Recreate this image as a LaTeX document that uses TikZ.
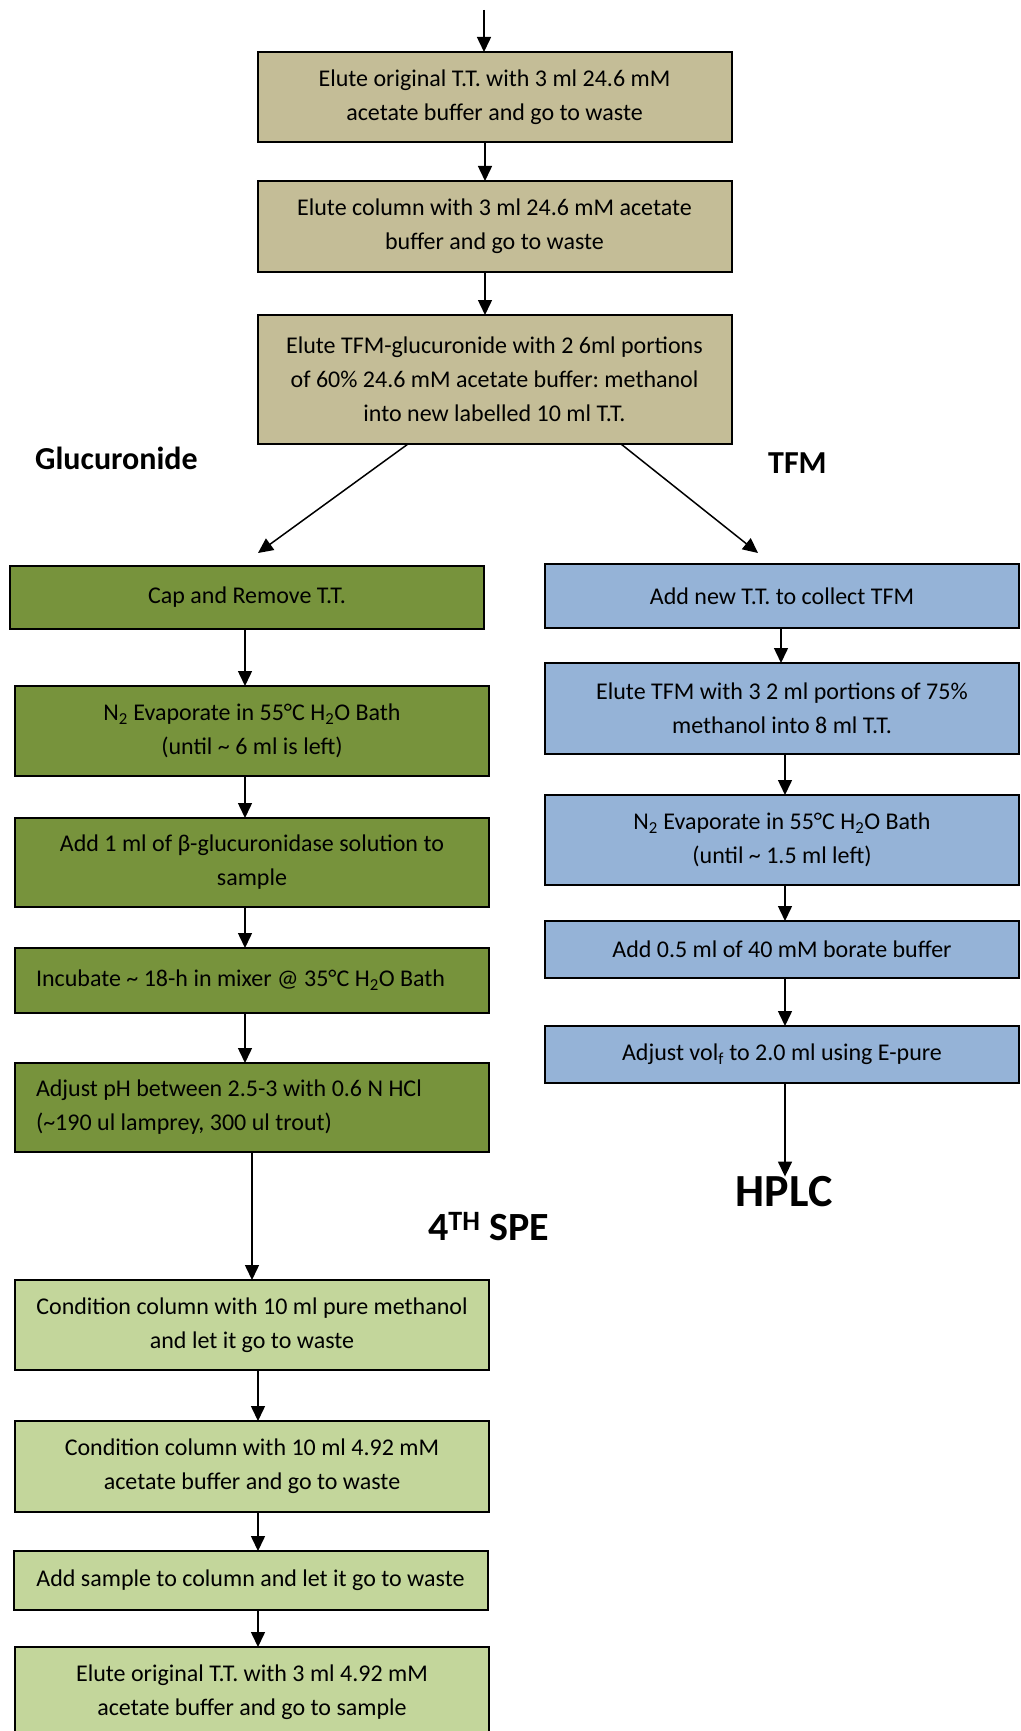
\documentclass[tikz,border=0pt]{standalone}
\usepackage{fontspec}
\setmainfont{Carlito}
\usepackage{tikz}
\usetikzlibrary{positioning,arrows.meta}
\definecolor{tanfill}{HTML}{C4BD97}
\definecolor{olivefill}{HTML}{77933C}
\definecolor{bluefill}{HTML}{95B3D7}
\definecolor{limefill}{HTML}{C3D69B}
\frenchspacing

\begin{document}
\begin{tikzpicture}[x=1pt, y=1pt,
    stepbox/.style={rectangle, draw=black, line width=2pt, outer sep=0pt, minimum width=474pt, inner xsep=0pt, inner ysep=0pt, align=center, font=\fontsize{24}{34}\selectfont},
    leftbox/.style={stepbox, minimum width=0pt, text width=432pt, inner xsep=21pt, align=flush left},
    tanbox/.style={stepbox, fill=tanfill},
    olivebox/.style={stepbox, fill=olivefill},
    bluebox/.style={stepbox, fill=bluefill},
    limebox/.style={stepbox, fill=limefill},
    headlabel/.style={inner sep=0pt, anchor=base west, font=\bfseries\fontsize{32}{36}\selectfont},
    flow/.style={line width=1.5pt, -{Triangle[length=15pt, width=14pt]}}
]
\useasboundingbox (0,0) rectangle (1020,-1731);

% common part
\coordinate (feed) at (484,-10);
\node[tanbox, minimum height=90pt] (eluteTT) at (494.5,-97) {Elute original T.T. with 3 ml 24.6 mM\\acetate buffer and go to waste};
\node[tanbox, minimum height=91pt, below=39pt of eluteTT] (eluteCol) {Elute column with 3 ml 24.6 mM acetate\\buffer and go to waste};
\node[tanbox, minimum height=129pt, below=43pt of eluteCol] (eluteGlu) {Elute TFM-glucuronide with 2 6ml portions\\of 60\% 24.6 mM acetate buffer: methanol\\into new labelled 10 ml T.T.};

\node[headlabel] (gluLabel) at (35,-469) {Glucuronide};
\node[headlabel] (tfmLabel) at (768,-473) {TFM};
\coordinate (gluTip) at (258,-553);
\coordinate (tfmTip) at (758,-553);

% glucuronide branch
\node[olivebox, minimum height=63pt] (capTT) at (247,-597.5) {Cap and Remove T.T.};
\node[olivebox, minimum height=90pt, below=57pt of capTT, xshift=5pt] (evapL) {N\textsubscript{2} Evaporate in 55°C H\textsubscript{2}O Bath\\(until \textasciitilde{} 6 ml is left)};
\node[olivebox, minimum height=89pt, below=42pt of evapL] (enzyme) {Add 1 ml of β-glucuronidase solution to\\sample};
\node[olivebox, leftbox, minimum height=65pt, below=41pt of enzyme] (incub) {Incubate \textasciitilde{} 18-h in mixer @ 35°C H\textsubscript{2}O Bath};
\node[olivebox, leftbox, minimum height=89pt, below=50pt of incub] (adjpH) {Adjust pH between 2.5-3 with 0.6 N HCl\\(\textasciitilde190 ul lamprey, 300 ul trout)};

\node[inner sep=0pt, anchor=base west, font=\bfseries\fontsize{40}{44}\selectfont] (speLabel) at (428,-1240) {4\textsuperscript{TH} SPE};

\node[limebox, minimum height=90pt, below=128pt of adjpH] (condMeth) {Condition column with 10 ml pure methanol\\and let it go to waste};
\node[limebox, minimum height=91pt, below=51pt of condMeth] (condBuf) {Condition column with 10 ml 4.92 mM\\acetate buffer and go to waste};
\node[limebox, minimum height=59pt, below=39pt of condBuf, xshift=-1.5pt] (addSample) {Add sample to column and let it go to waste};
\node[limebox, minimum height=90pt, below=37pt of addSample, xshift=1.5pt] (eluteSample) {Elute original T.T. with 3 ml 4.92 mM\\acetate buffer and go to sample};

% TFM branch
\node[bluebox, minimum height=64pt] (newTT) at (782,-596) {Add new T.T. to collect TFM};
\node[bluebox, minimum height=91pt, below=35pt of newTT] (eluteTFM) {Elute TFM with 3 2 ml portions of 75\%\\methanol into 8 ml T.T.};
\node[bluebox, minimum height=90pt, below=41pt of eluteTFM] (evapR) {N\textsubscript{2} Evaporate in 55°C H\textsubscript{2}O Bath\\(until \textasciitilde{} 1.5 ml left)};
\node[bluebox, minimum height=57pt, below=36pt of evapR] (borate) {Add 0.5 ml of 40 mM borate buffer};
\node[bluebox, minimum height=57pt, below=48pt of borate] (adjVol) {Adjust vol\textsubscript{f} to 2.0 ml using E-pure};
\node[inner sep=0pt, font=\bfseries\fontsize{46}{50}\selectfont] (hplc) at (784,-1192) {HPLC};

% arrows
\coordinate (tanX) at (485,0);
\coordinate (gluX) at (245,0);
\coordinate (speX) at (258,0);
\coordinate (tfmX) at (785,0);
\draw[flow] (feed) -- (eluteTT.north -| feed);
\draw[flow] (eluteTT.south -| tanX) -- (eluteCol.north -| tanX);
\draw[flow] (eluteCol.south -| tanX) -- (eluteGlu.north -| tanX);
\draw[flow] ([xshift=-86.5pt]eluteGlu.south) -- (gluTip);
\draw[flow] ([xshift=126.5pt]eluteGlu.south) -- (tfmTip);

\draw[flow] (capTT.south -| gluX) -- (evapL.north -| gluX);
\draw[flow] (evapL.south -| gluX) -- (enzyme.north -| gluX);
\draw[flow] (enzyme.south -| gluX) -- (incub.north -| gluX);
\draw[flow] (incub.south -| gluX) -- (adjpH.north -| gluX);
\draw[flow] (adjpH.south) -- (condMeth.north);
\draw[flow] (condMeth.south -| speX) -- (condBuf.north -| speX);
\draw[flow] (condBuf.south -| speX) -- (addSample.north -| speX);
\draw[flow] (addSample.south -| speX) -- (eluteSample.north -| speX);

\draw[flow] ([xshift=-1pt]newTT.south) -- ([xshift=-1pt]eluteTFM.north);
\draw[flow] (eluteTFM.south -| tfmX) -- (evapR.north -| tfmX);
\draw[flow] (evapR.south -| tfmX) -- (borate.north -| tfmX);
\draw[flow] (borate.south -| tfmX) -- (adjVol.north -| tfmX);
\draw[flow] (adjVol.south -| tfmX) -- (hplc.north -| tfmX);
\end{tikzpicture}
\end{document}
